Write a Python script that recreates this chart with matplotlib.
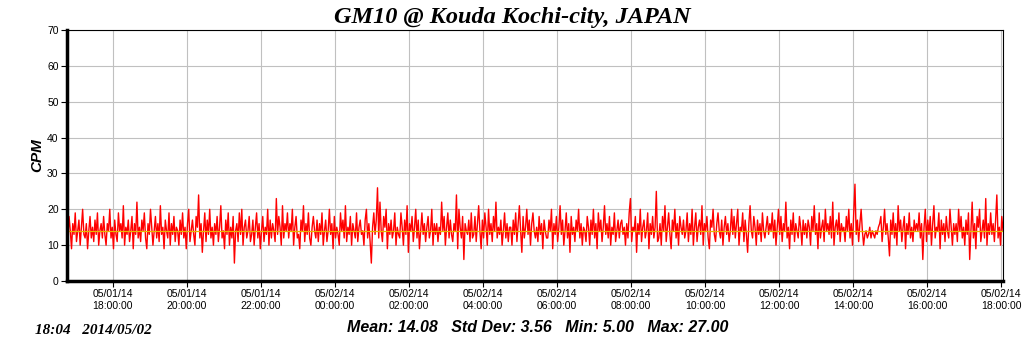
import numpy as np
import matplotlib.pyplot as plt

# CPM readings, 2-minute steps starting 05/01/14 16:45 (one row per hour)
cpm_rows = [
    [15, 12, 18, 14, 9, 16, 13, 19, 11, 14, 17, 10, 15, 20, 13, 12, 16, 9, 14, 18, 12, 15, 11, 17, 13, 19, 10, 14, 16, 12],
    [18, 13, 10, 16, 14, 20, 12, 15, 9, 17, 13, 11, 19, 14, 16, 12, 21, 10, 15, 13, 17, 11, 14, 18, 9, 16, 13, 22, 12, 15],
    [11, 17, 14, 19, 12, 9, 16, 13, 20, 15, 10, 14, 18, 12, 16, 11, 21, 13, 15, 9, 17, 14, 12, 19, 10, 16, 13, 18, 11, 15],
    [14, 10, 17, 13, 19, 12, 15, 9, 16, 20, 11, 14, 17, 13, 10, 18, 15, 24, 12, 16, 8, 14, 19, 11, 17, 13, 20, 12, 15, 10],
    [16, 13, 18, 11, 15, 21, 12, 14, 9, 17, 13, 19, 10, 15, 12, 18, 5, 14, 16, 11, 19, 13, 20, 10, 15, 17, 12, 14, 18, 11],
    [13, 17, 10, 15, 19, 12, 16, 9, 14, 18, 11, 15, 13, 20, 10, 17, 12, 16, 14, 11, 23, 13, 18, 15, 10, 21, 12, 16, 14, 19],
    [12, 16, 14, 20, 10, 15, 18, 12, 13, 9, 17, 14, 21, 11, 16, 13, 19, 12, 10, 15, 18, 14, 12, 17, 11, 16, 13, 19, 10, 14],
    [17, 11, 14, 20, 13, 16, 9, 18, 12, 15, 13, 10, 19, 14, 17, 12, 21, 11, 15, 13, 18, 10, 16, 14, 12, 19, 11, 15, 17, 13],
    [14, 10, 17, 20, 12, 16, 11, 5, 15, 19, 13, 17, 26, 12, 22, 14, 11, 18, 15, 20, 9, 16, 13, 17, 12, 14, 19, 10, 15, 13],
    [12, 19, 15, 10, 17, 13, 21, 8, 16, 14, 18, 11, 15, 20, 12, 17, 9, 14, 19, 13, 16, 11, 15, 18, 12, 14, 20, 10, 16, 13],
    [16, 11, 15, 13, 22, 14, 18, 10, 15, 19, 12, 17, 13, 11, 16, 14, 24, 9, 20, 15, 12, 18, 6, 16, 14, 13, 17, 11, 19, 12],
    [13, 18, 11, 16, 21, 14, 9, 17, 12, 19, 15, 10, 20, 13, 16, 11, 18, 14, 22, 12, 15, 13, 17, 10, 14, 19, 12, 16, 11, 15],
    [15, 10, 17, 13, 19, 11, 16, 21, 14, 8, 18, 12, 15, 20, 13, 17, 10, 16, 19, 14, 12, 15, 11, 18, 13, 16, 9, 17, 14, 12],
    [12, 17, 14, 20, 9, 16, 13, 18, 11, 15, 21, 13, 17, 10, 14, 19, 12, 16, 8, 18, 13, 15, 11, 17, 14, 20, 12, 16, 10, 15],
    [14, 11, 18, 15, 10, 17, 13, 20, 12, 16, 9, 19, 14, 17, 11, 15, 21, 13, 16, 12, 18, 10, 15, 13, 19, 11, 14, 17, 12, 16],
    [17, 13, 15, 10, 16, 12, 19, 23, 11, 15, 14, 18, 8, 16, 13, 20, 11, 15, 17, 12, 14, 19, 9, 16, 13, 18, 12, 15, 25, 11],
    [12, 16, 10, 18, 14, 21, 11, 15, 19, 13, 9, 17, 14, 20, 12, 16, 10, 18, 15, 13, 17, 12, 14, 19, 11, 16, 13, 20, 10, 15],
    [19, 11, 15, 17, 13, 21, 10, 16, 14, 18, 12, 9, 17, 15, 20, 13, 11, 16, 19, 14, 12, 17, 10, 15, 18, 13, 16, 11, 14, 20],
    [13, 18, 12, 16, 20, 10, 15, 14, 19, 11, 17, 13, 8, 16, 21, 14, 12, 18, 15, 10, 17, 13, 16, 11, 19, 14, 12, 15, 18, 13],
    [16, 14, 19, 12, 17, 10, 15, 20, 13, 18, 11, 16, 14, 22, 12, 15, 9, 17, 13, 19, 11, 16, 14, 12, 18, 15, 10, 17, 13, 16],
    [12, 17, 15, 10, 18, 14, 21, 13, 16, 9, 19, 12, 15, 17, 11, 20, 14, 16, 13, 18, 12, 22, 10, 15, 17, 13, 19, 11, 16, 14],
    [15, 11, 18, 14, 20, 12, 16, 10, 19, 27, 13, 17, 11, 16, 20, 14, 10, 13, 14, 12, 13, 15, 12, 14, 13, 12, 14, 13, 15, 16],
    [18, 11, 15, 20, 13, 16, 12, 7, 17, 13, 19, 12, 16, 10, 21, 14, 17, 11, 15, 18, 9, 16, 13, 19, 12, 15, 11, 17, 14, 16],
    [14, 19, 12, 16, 6, 15, 20, 11, 17, 13, 18, 10, 16, 21, 12, 15, 14, 19, 9, 17, 13, 16, 11, 18, 14, 12, 20, 15, 10, 16],
    [13, 16, 11, 20, 14, 18, 12, 15, 10, 17, 13, 19, 6, 14, 22, 12, 16, 9, 18, 15, 20, 11, 14, 17, 12, 23, 10, 16, 13, 19],
    [13, 16, 11, 17, 24, 12, 15, 10, 18, 14],
]
cpm = [v for row in cpm_rows for v in row]
start_hour = 16.75   # hours since 05/01 00:00
step_hour = 2 / 60

tick_hours = [18, 20, 22, 24, 26, 28, 30, 32, 34, 36, 38, 40, 42]
tick_labels = ["05/01/14\n18:00:00", "05/01/14\n20:00:00", "05/01/14\n22:00:00",
               "05/02/14\n00:00:00", "05/02/14\n02:00:00", "05/02/14\n04:00:00",
               "05/02/14\n06:00:00", "05/02/14\n08:00:00", "05/02/14\n10:00:00",
               "05/02/14\n12:00:00", "05/02/14\n14:00:00", "05/02/14\n16:00:00",
               "05/02/14\n18:00:00"]

mean_cpm = 14.08
title = "GM10 @ Kouda Kochi-city, JAPAN"
stats_text = "Mean: 14.08   Std Dev: 3.56   Min: 5.00   Max: 27.00"
stamp_text = "18:04   2014/05/02"

hours = start_hour + step_hour * np.arange(len(cpm))

fig = plt.figure(figsize=(10.24, 3.51), dpi=100)
ax = fig.add_axes([0.0654, 0.1994, 0.9141, 0.7151])

ax.plot(hours, cpm, color='red', linewidth=1.0)
ax.axhline(mean_cpm, color='#e8b400', linewidth=0.9)

ax.set_xlim(16.76, 42.05)
ax.set_ylim(0, 70)
ax.set_yticks(range(0, 71, 10))
ax.set_xticks(tick_hours)
ax.set_xticklabels(tick_labels)
ax.grid(True, color='#c0c0c0', linewidth=0.8)
ax.set_axisbelow(True)

for lbl in ax.get_xticklabels() + ax.get_yticklabels():
    lbl.set_family('Liberation Sans')
    lbl.set_fontsize(7.5)
ax.tick_params(length=4, width=0.8, pad=2, colors='black')

ax.spines['left'].set_linewidth(2.5)
ax.spines['bottom'].set_linewidth(2.5)
ax.spines['top'].set_linewidth(0.8)
ax.spines['right'].set_linewidth(0.8)

ax.set_ylabel("CPM", family='Liberation Sans', fontsize=11, fontweight='bold',
              style='italic', labelpad=2)

fig.text(0.5, 0.95, title, ha='center', va='center', family='Liberation Serif',
         fontsize=17.5, fontweight='bold', style='italic')
fig.text(0.525, 0.068, stats_text, ha='center', va='center', family='Liberation Sans',
         fontsize=11.5, fontweight='bold', style='italic')
fig.text(0.034, 0.057, stamp_text, ha='left', va='center', family='Liberation Serif',
         fontsize=11, fontweight='bold', style='italic')

fig.savefig("out.png", dpi=100)
